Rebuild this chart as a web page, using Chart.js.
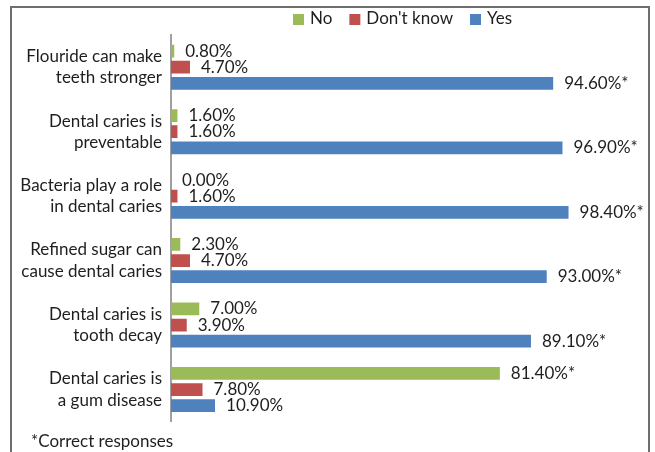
<!DOCTYPE html>
<html>
<head>
<meta charset="utf-8">
<script src="https://cdn.jsdelivr.net/npm/chart.js@4"></script>
<style>
  html, body { margin: 0; padding: 0; background: #fff; }
  #wrap { position: relative; width: 655px; height: 452px; overflow: hidden; }
  #frame { position: absolute; left: 10px; top: 6px; width: 640px; height: 500px; border: 2px solid #6e6e6e; box-sizing: border-box; }
  canvas { position: absolute; left: 0; top: 0; }
</style>
</head>
<body>
<div id="wrap">
  <div id="frame"></div>
  <canvas id="grafico" width="655" height="452"></canvas>
</div>
<script>
const categorias = [
  ['Flouride can make', 'teeth stronger'],
  ['Dental caries is', 'preventable'],
  ['Bacteria play a role', 'in dental caries'],
  ['Refined sugar can', 'cause dental caries'],
  ['Dental caries is', 'tooth decay'],
  ['Dental caries is', 'a gum disease']
];
const respostaNo = [0.8, 1.6, 0.0, 2.3, 7.0, 81.4];
const respostaNaoSei = [4.7, 1.6, 1.6, 4.7, 3.9, 7.8];
const respostaYes = [94.6, 96.9, 98.4, 93.0, 89.1, 10.9];
// which answer is the correct one for each statement (gets the asterisk)
const corretas = ['Yes', 'Yes', 'Yes', 'Yes', 'Yes', 'No'];

const fonte = 'Lato, "Noto Sans", sans-serif';
const corTexto = '#1e1e1e';
const tamanho = 17;

// percentage labels to the right of each bar
const rotulosValores = {
  id: 'rotulosValores',
  afterDatasetsDraw(chart) {
    const ctx = chart.ctx;
    ctx.save();
    ctx.font = tamanho + 'px ' + fonte;
    ctx.fillStyle = corTexto;
    ctx.textBaseline = 'middle';
    ctx.textAlign = 'left';
    chart.data.datasets.forEach((ds, i) => {
      chart.getDatasetMeta(i).data.forEach((bar, j) => {
        let txt = ds.data[j].toFixed(2) + '%';
        if (corretas[j] === ds.label) txt += '*';
        ctx.fillText(txt, bar.x + 11, bar.y);
      });
    });
    ctx.restore();
  }
};

// legend row and footnote
const legendaENota = {
  id: 'legendaENota',
  afterDraw(chart) {
    const ctx = chart.ctx;
    ctx.save();
    ctx.font = tamanho + 'px ' + fonte;
    ctx.textBaseline = 'middle';
    let x = 293;
    const y = 19;
    chart.data.datasets.forEach(ds => {
      ctx.fillStyle = ds.backgroundColor;
      ctx.fillRect(x, y - 5, 11, 11);
      x += 17;
      ctx.fillStyle = corTexto;
      ctx.fillText(ds.label, x, y);
      x += ctx.measureText(ds.label).width + 17;
    });
    ctx.fillText('*Correct responses', 31, 442);
    ctx.restore();
  }
};

new Chart(document.getElementById('grafico'), {
  type: 'bar',
  data: {
    labels: categorias,
    datasets: [
      { label: 'No', data: respostaNo, backgroundColor: '#9BBB59' },
      { label: "Don't know", data: respostaNaoSei, backgroundColor: '#C0504D' },
      { label: 'Yes', data: respostaYes, backgroundColor: '#4F81BD' }
    ]
  },
  options: {
    indexAxis: 'y',
    responsive: false,
    animation: false,
    datasets: { bar: { categoryPercentage: 0.75, barPercentage: 0.79 } },
    layout: { padding: { top: 35, bottom: 21, right: 80, left: 0 } },
    scales: {
      x: { min: 0, max: 100, display: false },
      y: {
        afterFit(scale) { scale.width = 171; },
        grid: { display: false, drawTicks: false },
        border: { display: true, color: '#a0a0a0', width: 2 },
        ticks: {
          padding: 9,
          color: corTexto,
          font: { family: fonte, size: tamanho, lineHeight: 1.25 }
        }
      }
    },
    plugins: {
      legend: { display: false },
      tooltip: { enabled: false }
    }
  },
  plugins: [rotulosValores, legendaENota]
});
</script>
</body>
</html>
